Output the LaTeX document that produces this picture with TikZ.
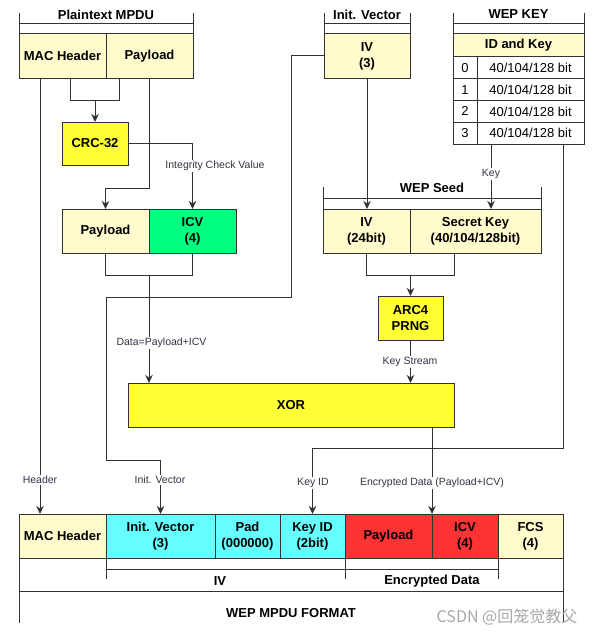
\documentclass[tikz,border=0pt]{standalone}
\usepackage{fontspec}
\setmainfont{Liberation Sans}
\newfontfamily\cjkfont{Noto Sans CJK SC}
\usetikzlibrary{arrows.meta,calc}
\definecolor{ly}{HTML}{FFFBCC}
\definecolor{yl}{HTML}{FFFF33}
\definecolor{gr}{HTML}{00FF80}
\definecolor{cy}{HTML}{66FFFF}
\definecolor{rd}{HTML}{FF3333}
\definecolor{bd}{HTML}{333333}
\definecolor{lc}{HTML}{333344}
\definecolor{wm}{HTML}{A8A8A8}
\begin{document}
\begin{tikzpicture}[x=1pt,y=-1pt,
  box/.style={draw=bd, line width=1pt, anchor=north west, inner sep=0pt, outer sep=0pt,
    align=center, font=\bfseries\fontsize{13}{16}\selectfont},
  cell/.style={box, fill=white, font=\fontsize{13}{16}\selectfont},
  ln/.style={draw=bd, line width=1pt},
  arr/.style={ln, -{Stealth[length=8pt,width=7.5pt,inset=2.5pt]}},
  lbl/.style={fill=white, inner sep=1pt, text=lc, font=\fontsize{10.5}{12}\selectfont},
  ttl/.style={inner sep=0pt, font=\bfseries\fontsize{13}{16}\selectfont}]
\useasboundingbox (0,0) rectangle (599,634);

% ---- frames (swimlane headers)
\draw[ln] (19,13) -- (19,34) (193,13) -- (193,34) (19,24) -- (193,24);
\node[ttl] (tplain) at (106,14.5) {Plaintext MPDU};
\draw[ln] (324,13) -- (324,34) (410,13) -- (410,34) (324,24) -- (410,24);
\node[ttl] (tiv) at (367,14.5) {Init. Vector};
\draw[ln] (453,13) -- (453,34) (584,13) -- (584,34) (453,24) -- (584,24);
\node[ttl] (tkey) at (518.5,14.5) {WEP KEY};
\draw[ln] (323,187) -- (323,209) (541,187) -- (541,209) (323,198) -- (541,198);
\node[ttl] (tseed) at (432,188) {WEP Seed};

% ---- top boxes
\node[box, fill=ly, minimum width=87pt, minimum height=44pt] (pmac) at (19,34) {MAC Header};
\node[box, fill=ly, minimum width=87pt, minimum height=44pt] (ppay) at (106,34) {Payload};
\node[box, fill=yl, minimum width=66pt, minimum height=43pt] (crc) at (62,122) {CRC-32};
\node[box, fill=ly, minimum width=87pt, minimum height=44pt] (ipay) at (62,209) {Payload};
\node[box, fill=gr, minimum width=87pt, minimum height=44pt] (icv) at (149,209) {ICV\\(4)};
\node[box, fill=ly, minimum width=86pt, minimum height=44pt] (ivtop) at (324,34) {IV\\(3)};
\node[box, fill=ly, minimum width=131pt, minimum height=23pt] (idkey) at (453,34) {ID and Key};
\foreach \i in {0,1,2,3}{
  \node[cell, minimum width=24pt, minimum height=21.75pt] (k\i n) at (453,57+21.75*\i) {\i};
  \node[cell, minimum width=107pt, minimum height=21.75pt] (k\i v) at (477,57+21.75*\i) {40/104/128 bit};
}
\node[box, fill=ly, minimum width=87pt, minimum height=44pt] (sIV) at (323,209) {IV\\(24bit)};
\node[box, fill=ly, minimum width=131pt, minimum height=44pt] (sKey) at (410,209) {Secret Key\\(40/104/128bit)};
\node[box, fill=yl, minimum width=65pt, minimum height=44pt] (arc4) at (378,296) {ARC4\\PRNG};
\node[box, fill=yl, minimum width=326pt, minimum height=44pt] (xor) at (128,383) {XOR};

% ---- WEP MPDU row
\node[box, fill=ly, minimum width=87pt, minimum height=44pt] (wmac) at (19,514) {MAC Header};
\node[box, fill=cy, minimum width=109pt, minimum height=44pt] (wiv) at (106,514) {Init. Vector\\(3)};
\node[box, fill=cy, minimum width=65pt, minimum height=44pt] (wpad) at (215,514) {Pad\\(000000)};
\node[box, fill=cy, minimum width=65pt, minimum height=44pt] (wkid) at (280,514) {Key ID\\(2bit)};
\node[box, fill=rd, minimum width=87pt, minimum height=44pt] (wpay) at (345,514) {Payload};
\node[box, fill=rd, minimum width=66pt, minimum height=44pt] (wicv) at (432,514) {ICV\\(4)};
\node[box, fill=ly, minimum width=65pt, minimum height=44pt] (wfcs) at (498,514) {FCS\\(4)};

% ---- bottom brackets
\draw[ln] (106,558) -- (106,579) (345,558) -- (345,579) (498,558) -- (498,579) (106,569) -- (498,569);
\node[ttl] (tbiv) at (220,581) {IV};
\node[ttl] (tbenc) at (432,581) {Encrypted Data};
\draw[ln] (19,558) -- (19,623) (563,558) -- (563,623) (19,591) -- (563,591);
\node[ttl] (tbfmt) at (291,613) {WEP MPDU FORMAT};

% ---- connectors
\draw[arr] ([xshift=21pt]pmac.south west) -- ([xshift=21pt]wmac.north west);
\node[lbl] (lhdr) at (40,480) {Header};

\draw[ln] ([xshift=51pt]pmac.south west) -- ++(0,22) coordinate (j1) -| ([xshift=13pt]ppay.south west);
\draw[arr] (j1 -| crc.north) -- (crc.north);

\draw[arr] ([xshift=-0.5pt]ppay.south) -- ++(0,110) -| (ipay.north);

\draw[arr] (crc.east) -| (icv.north);
\node[lbl] (licv) at (215,166) {Integrity Check Value};

\draw[ln] (ipay.south) -- ++(0,22) coordinate (j2) -| (icv.south);
\draw[arr] (j2 -| ipay.south east) -- (ipay.south east |- xor.north);
\node[lbl] (ldata) at (161.5,343) {Data=Payload+ICV};

\coordinate (c1) at (291,297);
\coordinate (c2) at (106,460);
\draw[arr] (ivtop.west) -| (c1) -| (c2) -| (wiv.north);
\node[lbl] (linit) at (160,480) {Init. Vector};

\draw[arr] (ivtop.south) -- (ivtop.south |- sIV.north);

\draw[arr] ([xshift=14pt]k3v.south west) -- ([xshift=14pt]k3v.south west |- sKey.north);
\node[lbl] (lkey) at (491,174) {Key};

\draw[arr] ([xshift=-21pt]k3v.south east) -- ++(0,304) -| (wkid.north);
\node[lbl] (lkid) at (313,483) {Key ID};

\draw[ln] (sIV.south) -- ++(0,22) coordinate (j3) -| ([xshift=44pt]sKey.south west);
\draw[arr] (j3 -| arc4.north) -- (arc4.north);

\draw[arr] (arc4.south) -- (arc4.south |- xor.north);
\node[lbl] (lks) at (410,362) {Key Stream};

\draw[arr] (xor.south -| wicv.north west) -- (wicv.north west);
\node[lbl] (lenc) at (432,483) {Encrypted Data (Payload+ICV)};

% ---- watermark
\node[inner sep=0pt, text=wm, font=\cjkfont\fontsize{16}{18}\selectfont] (wmark) at (507,617) {CSDN @回笼觉教父};
\end{tikzpicture}
\end{document}
